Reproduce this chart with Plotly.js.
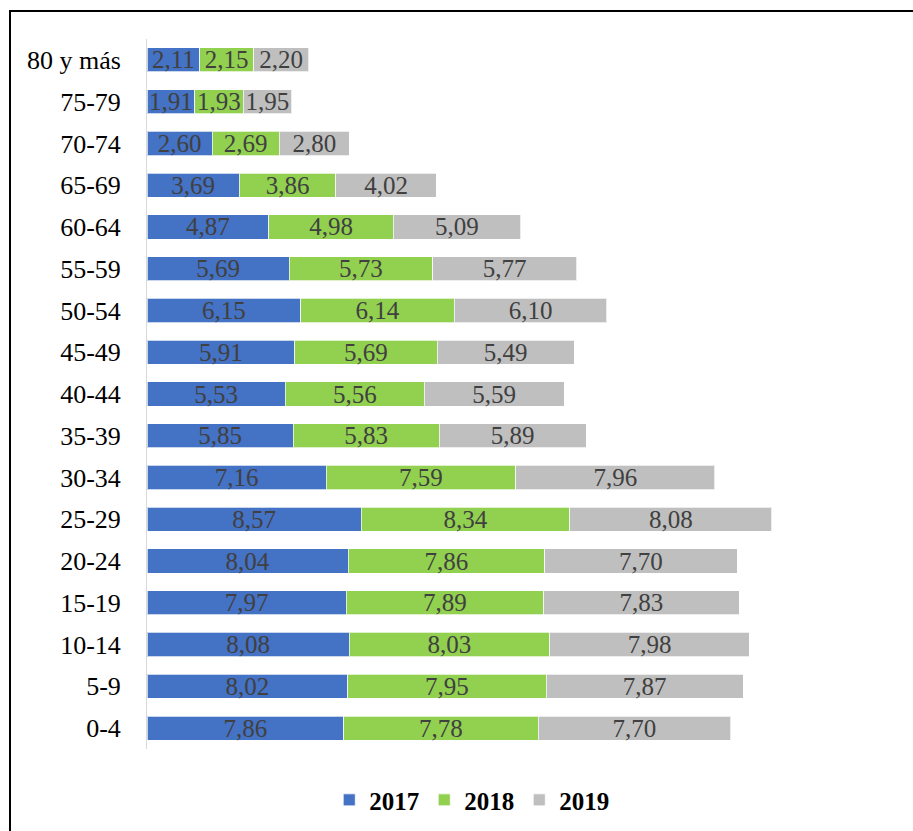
<!DOCTYPE html>
<html>
<head>
<meta charset="utf-8">
<script src="https://cdn.plot.ly/plotly-3.0.1.min.js"></script>
<style>
  html, body { margin: 0; padding: 0; background: #fff; }
  #wrap { position: relative; width: 913px; height: 831px; }
  #chart { width: 913px; height: 831px; }
  #frame { position: absolute; left: 9px; top: 10px; width: 904px; height: 821px;
           border-top: 2px solid #000; border-left: 2px solid #000; box-sizing: border-box; pointer-events: none; }
</style>
</head>
<body>
<div id="wrap">
  <div id="chart"></div>
  <div id="frame"></div>
</div>
<script>
const categories = ["0-4","5-9","10-14","15-19","20-24","25-29","30-34","35-39","40-44","45-49","50-54","55-59","60-64","65-69","70-74","75-79","80 y más"];
const seriesNames = ["2017","2018","2019"];
const values2017 = [7.86,8.02,8.08,7.97,8.04,8.57,7.16,5.85,5.53,5.91,6.15,5.69,4.87,3.69,2.60,1.91,2.11];
const values2018 = [7.78,7.95,8.03,7.89,7.86,8.34,7.59,5.83,5.56,5.69,6.14,5.73,4.98,3.86,2.69,1.93,2.15];
const values2019 = [7.70,7.87,7.98,7.83,7.70,8.08,7.96,5.89,5.59,5.49,6.10,5.77,5.09,4.02,2.80,1.95,2.20];
const colors = ["#4472C4","#92D050","#BFBFBF"];

const FONT = "'Liberation Serif', 'Times New Roman', Times, serif";

const allValues = [values2017, values2018, values2019];
const traces = allValues.map((vals, i) => ({
  type: "bar",
  orientation: "h",
  name: seriesNames[i],
  y: categories,
  x: vals,
  marker: { color: colors[i], line: { color: "rgba(255,255,255,0.7)", width: 1 } },
  texttemplate: "%{x:.2f}",
  textposition: "inside",
  insidetextanchor: "middle",
  textangle: 0,
  constraintext: "none",
  textfont: { family: FONT, size: 25, color: "#404040" },
  hoverinfo: "none"
}));

const layout = {
  width: 913,
  height: 831,
  margin: { l: 147, r: 16, t: 39, b: 82, autoexpand: false },
  paper_bgcolor: "#fff",
  plot_bgcolor: "#fff",
  barmode: "stack",
  bargap: 0.42,
  separators: ",.",
  font: { family: FONT, size: 26, color: "#000" },
  xaxis: { range: [0, 30], showticklabels: false, showgrid: false, zeroline: false, showline: false, fixedrange: true },
  yaxis: {
    type: "category",
    showline: true, linecolor: "#D9D9D9", linewidth: 1,
    showgrid: false, zeroline: false,
    ticks: "outside", ticklen: 20, tickcolor: "rgba(0,0,0,0)",
    tickfont: { family: FONT, size: 26, color: "#000" },
    fixedrange: true
  },
  showlegend: true,
  legend: {
    orientation: "h",
    traceorder: "normal",
    x: 0.433, xanchor: "center",
    y: -0.072, yanchor: "middle",
    font: { family: FONT, size: 25, color: "#000", weight: "bold" },
    itemclick: false, itemdoubleclick: false
  }
};

Plotly.newPlot("chart", traces, layout, { displayModeBar: false, staticPlot: true });
</script>
</body>
</html>
